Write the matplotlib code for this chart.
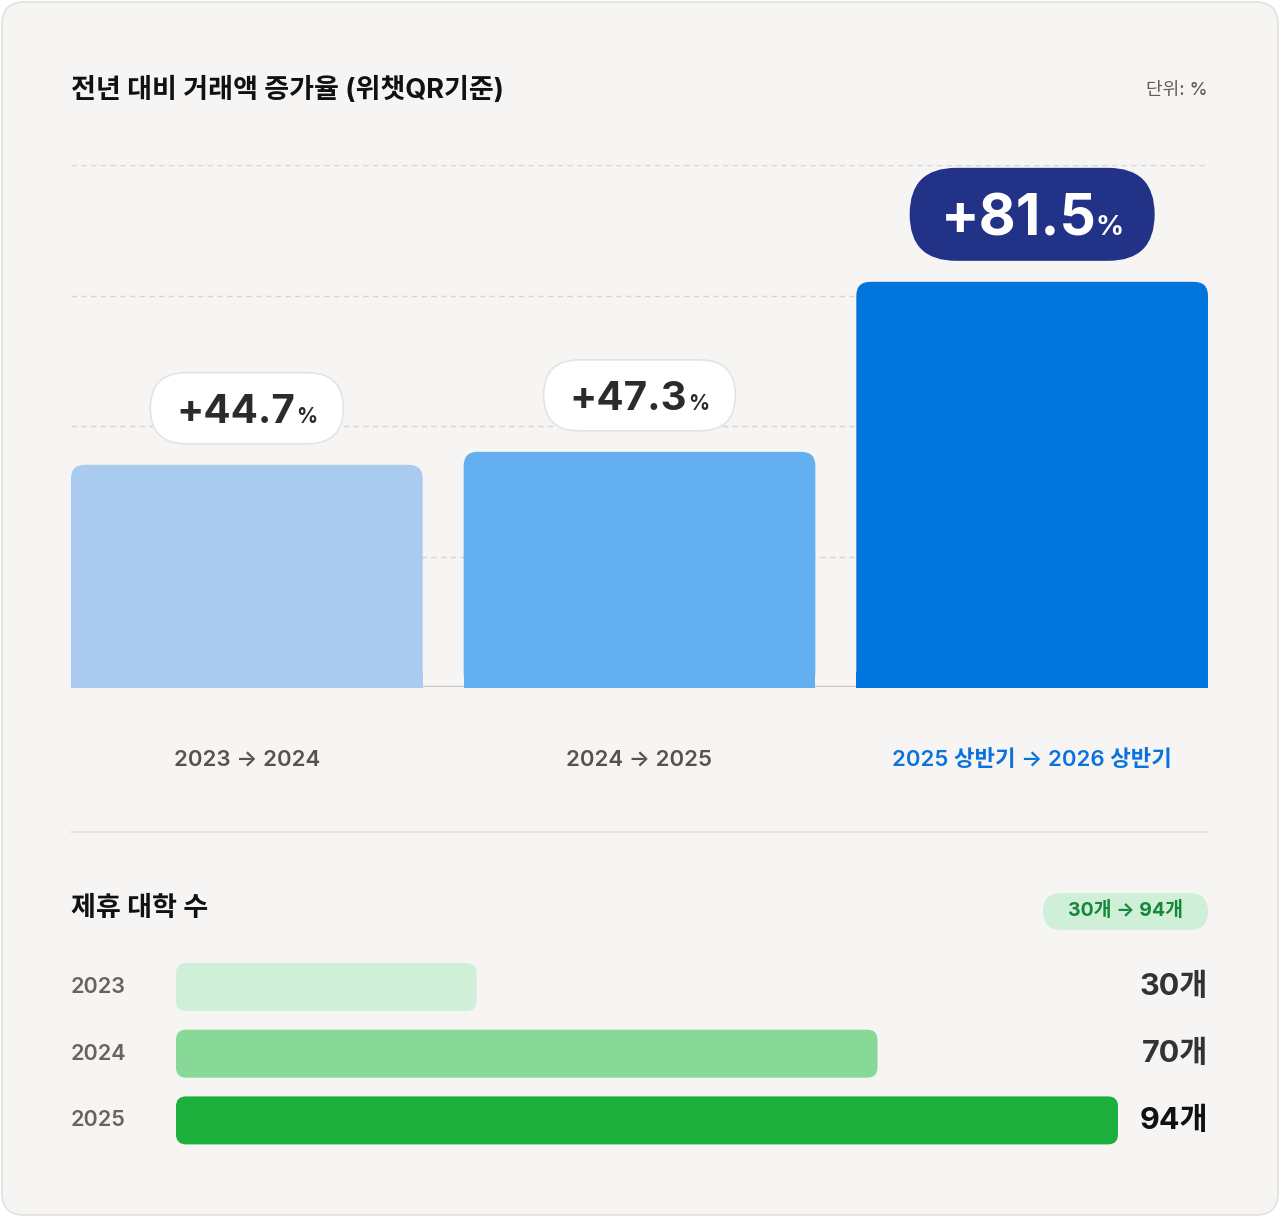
import matplotlib
matplotlib.use("Agg")
import matplotlib.pyplot as plt
from matplotlib.patches import FancyBboxPatch, Rectangle
from matplotlib.transforms import IdentityTransform, blended_transform_factory

plt.rcParams['font.family'] = ['Inter', 'Noto Sans CJK KR', 'DejaVu Sans']

# ---------------- data ----------------
growth_labels = ["2023 → 2024", "2024 → 2025", "2025 상반기 → 2026 상반기"]
growth_values = [44.7, 47.3, 81.5]
growth_colors = ["#a9cbf0", "#64aff0", "#0075de"]

univ_years = ["2023", "2024", "2025"]
univ_counts = [30, 70, 94]
univ_colors = ["#d0efd8", "#88d898", "#1caf3c"]

title1 = "전년 대비 거래액 증가율 (위챗QR기준)"
unit_text = "단위: %"
title2 = "제휴 대학 수"
pill_text = "30개 → 94개"

W, H = 1280, 1217
DPI = 100
fig = plt.figure(figsize=(W / DPI, H / DPI), dpi=DPI, facecolor="white")
ID = IdentityTransform()


def fx(x):
    return x / W


def fy(y):
    return 1 - y / H


def dy(y):
    return H - y


# card background
card = FancyBboxPatch((2, 2), W - 4, H - 4, boxstyle="round,pad=0,rounding_size=22",
                      fc="#f6f5f3", ec="#e3e1de", lw=1.2, transform=ID, zorder=0)
fig.add_artist(card)

# ---------------- top chart ----------------
ax = fig.add_axes([fx(71), fy(687), (1208 - 71) / W, (687 - 165) / H])
ax.set_facecolor("none")
for s in ax.spines.values():
    s.set_visible(False)
ax.set_xticks([])
ax.set_yticks([])
bw = 352 / 393
ax.set_xlim(-bw / 2, len(growth_values) - 1 + bw / 2)
ax.set_ylim(0, 105)
for gy in [26.25, 52.5, 78.75, 105]:
    ax.axhline(gy, color="#d8d5d1", lw=1, ls=(0, (4, 3)), zorder=0.5)
ax.axhline(0, color="#cbc6c1", lw=2.5, zorder=0.6)

bars = ax.bar(range(len(growth_values)), growth_values, width=bw, color=growth_colors, zorder=1)
fig.canvas.draw()
renderer = fig.canvas.get_renderer()

for i, b in enumerate(bars):
    b.set_visible(False)
    bb = b.get_window_extent(renderer)
    x0, y0, x1, y1 = bb.x0, bb.y0, bb.x1, bb.y1
    r = 14
    p = FancyBboxPatch((x0, y0), x1 - x0, y1 - y0, boxstyle=f"round,pad=0,rounding_size={r}",
                       fc=growth_colors[i], ec="none", transform=ID, zorder=2)
    fig.add_artist(p)
    sq = Rectangle((x0, y0 - 1), x1 - x0, r + 2, fc=growth_colors[i], ec="none", transform=ID, zorder=2)
    fig.add_artist(sq)

    # value bubble
    big = i == len(growth_values) - 1
    num_fs = 41 if big else 29
    pct_fs = 20 if big else 15
    bh = 93 if big else 71
    padx = 31 if big else 26
    gap = -1 if big else 1
    fc = "#223287" if big else "white"
    tc = "white" if big else "#2b2b2b"
    cx = (x0 + x1) / 2
    bub_bottom = y1 + 21
    bub_cy = bub_bottom + bh / 2
    tnum = fig.text(0, 0, f"+{growth_values[i]}", fontsize=num_fs, fontweight="bold",
                    color=tc, transform=ID, ha="left", va="baseline", zorder=4)
    tpct = fig.text(0, 0, "%", fontsize=pct_fs, fontweight="bold",
                    color=tc, transform=ID, ha="left", va="baseline", zorder=4)
    wn = tnum.get_window_extent(renderer).width
    wp = tpct.get_window_extent(renderer).width
    total = wn + gap + wp
    start = cx - total / 2
    base = bub_cy - (0.727 * num_fs / 0.72) / 2
    tnum.set_position((start, base))
    tpct.set_position((start + wn + gap, base))
    bw_px = total + 2 * padx
    bub = FancyBboxPatch((cx - bw_px / 2, bub_bottom), bw_px, bh,
                         boxstyle=f"round,pad=0,rounding_size={bh / 2}",
                         fc=fc, ec="none" if big else "#e6e4e1", lw=1.2, transform=ID, zorder=3)
    fig.add_artist(bub)

# x labels
tr = blended_transform_factory(ax.transData, ID)
for i, lab in enumerate(growth_labels):
    last = i == len(growth_labels) - 1
    ax.text(i, dy(760), lab, transform=tr, ha="center", va="center", fontsize=16,
            fontweight="semibold", color="#0a72dc" if last else "#555250")

# titles
fig.text(fx(71), fy(90), title1, fontsize=19.5, fontweight="bold", color="#111111",
         ha="left", va="center")
fig.text(fx(1208), fy(91), unit_text, fontsize=13, fontweight="medium", color="#605e5c",
         ha="right", va="center")

# separator
fig.add_artist(plt.Line2D([fx(71), fx(1208)], [fy(832), fy(832)], color="#e6e4e1", lw=1.2))

# ---------------- bottom chart ----------------
fig.text(fx(71), fy(909), title2, fontsize=19.5, fontweight="bold", color="#111111",
         ha="left", va="center")
pill = FancyBboxPatch((1043, dy(930)), 1208 - 1043, 37, boxstyle="round,pad=0,rounding_size=18.5",
                      fc="#d0efd8", ec="none", transform=ID, zorder=3)
fig.add_artist(pill)
fig.text(fx(1125.5), fy(911), pill_text, fontsize=14, fontweight="bold", color="#17873a",
         ha="center", va="center", zorder=4)

row_h = 66.7
ax2 = fig.add_axes([fx(176), fy(987 + row_h * 2 + row_h / 2), (1118 - 176) / W, (row_h * 3) / H])
ax2.set_facecolor("none")
for s in ax2.spines.values():
    s.set_visible(False)
ax2.set_xticks([])
ax2.set_yticks([])
ax2.set_xlim(0, max(univ_counts))
ax2.set_ylim(len(univ_counts) - 0.5, -0.5)
hbars = ax2.barh(range(len(univ_counts)), univ_counts, height=48 / row_h, color=univ_colors)
fig.canvas.draw()
for i, b in enumerate(hbars):
    b.set_visible(False)
    bb = b.get_window_extent(renderer)
    p = FancyBboxPatch((bb.x0, bb.y0), bb.width, bb.height, boxstyle="round,pad=0,rounding_size=10",
                       fc=univ_colors[i], ec="none", transform=ID, zorder=2)
    fig.add_artist(p)

tr2 = blended_transform_factory(fig.transFigure, ax2.transData)
for i, (yr, c) in enumerate(zip(univ_years, univ_counts)):
    ax2.text(fx(71), i, yr, transform=tr2, ha="left", va="center", fontsize=15.5,
             fontweight="semibold", color="#666462")
    ax2.text(fx(1208), i, f"{c}개", transform=tr2, ha="right", va="center", fontsize=22,
             fontweight="bold", color="#111111" if i == len(univ_counts) - 1 else "#333333")

fig.savefig("out.png", dpi=DPI, facecolor="white")
